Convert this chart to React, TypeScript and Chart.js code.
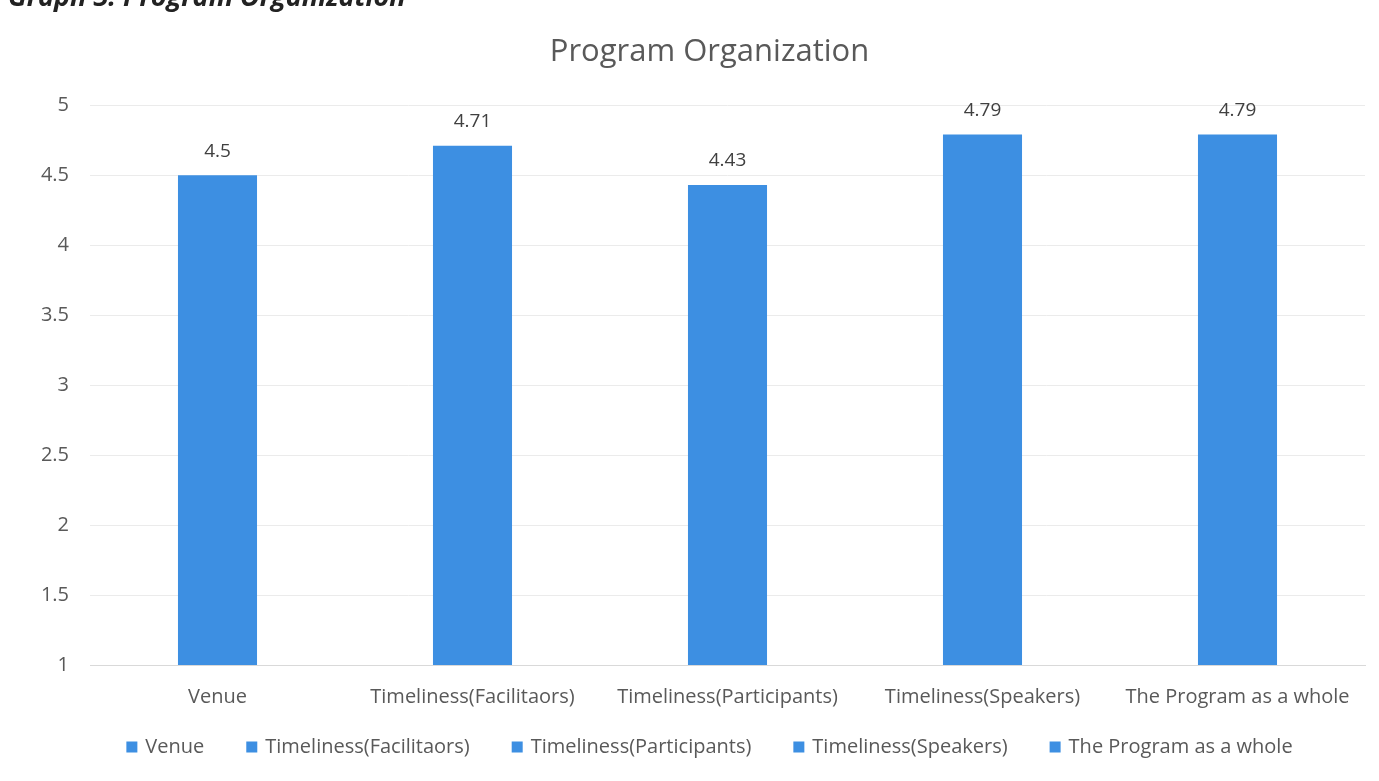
import React, { useEffect, useRef } from "react";
import { Chart, registerables } from "chart.js";

Chart.register(...registerables);

const categories = [
  "Venue",
  "Timeliness(Facilitaors)",
  "Timeliness(Participants)",
  "Timeliness(Speakers)",
  "The Program as a whole",
];
const scores = [4.5, 4.71, 4.43, 4.79, 4.79];
const yTicks = [1, 1.5, 2, 2.5, 3, 3.5, 4, 4.5, 5];
const chartTitle = "Program Organization";
const captionText = "Graph 3: Program Organization";

const BAR_COLOR = "#3D8FE2";
const TEXT_COLOR = "#595959";
const FONT = "'Open Sans', 'Noto Sans', sans-serif";

const dataLabelPlugin = {
  id: "dataLabels",
  afterDatasetsDraw(chart: any) {
    const ctx = chart.ctx;
    const meta = chart.getDatasetMeta(0);
    ctx.save();
    ctx.font = `19px ${FONT}`;
    ctx.fillStyle = "#404040";
    ctx.textAlign = "center";
    ctx.textBaseline = "middle";
    meta.data.forEach((bar: any, i: number) => {
      ctx.fillText(String(scores[i]), bar.x, bar.y - 24);
    });
    ctx.restore();
  },
};

// Shift the title so it is centred like the original (over the whole frame)
const titleShiftPlugin = {
  id: "titleShift",
  afterLayout(chart: any) {
    if (chart.titleBlock) {
      chart.titleBlock.left += 12;
      chart.titleBlock.right += 12;
    }
  },
};

// Legend: one entry per category (Excel "vary colours by point" style)
const legendPlugin = {
  id: "categoryLegend",
  afterDraw(chart: any) {
    const ctx = chart.ctx;
    const box = 11;
    const gap = 8;
    const spacing = 42;
    ctx.save();
    ctx.font = `20px ${FONT}`;
    ctx.textBaseline = "middle";
    ctx.textAlign = "left";
    const widths = categories.map((c) => box + gap + ctx.measureText(c).width);
    const total = widths.reduce((a, b) => a + b, 0) + spacing * (categories.length - 1);
    const centerX = (chart.chartArea.left + chart.chartArea.right) / 2 - 18;
    const y = chart.height - 34;
    let x = centerX - total / 2;
    categories.forEach((c, i) => {
      ctx.fillStyle = BAR_COLOR;
      ctx.fillRect(x, y - box / 2, box, box);
      ctx.fillStyle = TEXT_COLOR;
      ctx.fillText(c, x + box + gap, y);
      x += widths[i] + spacing;
    });
    ctx.restore();
  },
};

export default function App() {
  const ref = useRef<HTMLCanvasElement>(null);
  useEffect(() => {
    if (!ref.current) return;
    const chart = new Chart(ref.current, {
      type: "bar",
      data: {
        labels: categories,
        datasets: [
          {
            label: chartTitle,
            data: scores,
            backgroundColor: BAR_COLOR,
            barPercentage: 0.31,
            categoryPercentage: 1,
          },
        ],
      },
      options: {
        animation: false,
        responsive: false,
        maintainAspectRatio: false,
        layout: { padding: { left: 30, right: 14, top: 34, bottom: 60 } },
        plugins: {
          title: {
            display: true,
            text: chartTitle,
            color: TEXT_COLOR,
            font: { family: FONT, size: 31, weight: "normal" },
            padding: { top: 0, bottom: 34 },
          },
          legend: { display: false },
          tooltip: { enabled: false },
        },
        scales: {
          x: {
            grid: { display: false },
            border: { color: "#d9d9d9" },
            ticks: {
              color: TEXT_COLOR,
              font: { family: FONT, size: 20 },
              maxRotation: 0,
              autoSkip: false,
              padding: 12,
            },
          },
          y: {
            min: 1,
            max: 5,
            afterBuildTicks: (axis: any) => {
              axis.ticks = yTicks.map((v) => ({ value: v }));
            },
            afterFit: (axis: any) => {
              axis.width = 60;
            },
            grid: { color: "#ebebeb", drawTicks: false },
            border: { display: false },
            ticks: {
              color: TEXT_COLOR,
              font: { family: FONT, size: 20 },
              padding: 21,
              callback: (v: any) => String(v),
            },
          },
        },
      },
      plugins: [dataLabelPlugin, titleShiftPlugin, legendPlugin],
    });
    return () => chart.destroy();
  }, []);

  return (
    <div
      style={{
        position: "absolute",
        left: 0,
        top: 0,
        width: 1379,
        height: 781,
        background: "#fff",
        overflow: "hidden",
      }}
    >
      <canvas
        ref={ref}
        width={1379}
        height={781}
        style={{ position: "absolute", left: 0, top: 0 }}
      />
      <div
        style={{
          position: "absolute",
          left: 8,
          top: -23,
          fontFamily: FONT,
          fontSize: 27,
          fontWeight: "bold",
          fontStyle: "italic",
          color: "#222",
          whiteSpace: "nowrap",
        }}
      >
        {captionText}
      </div>
    </div>
  );
}
